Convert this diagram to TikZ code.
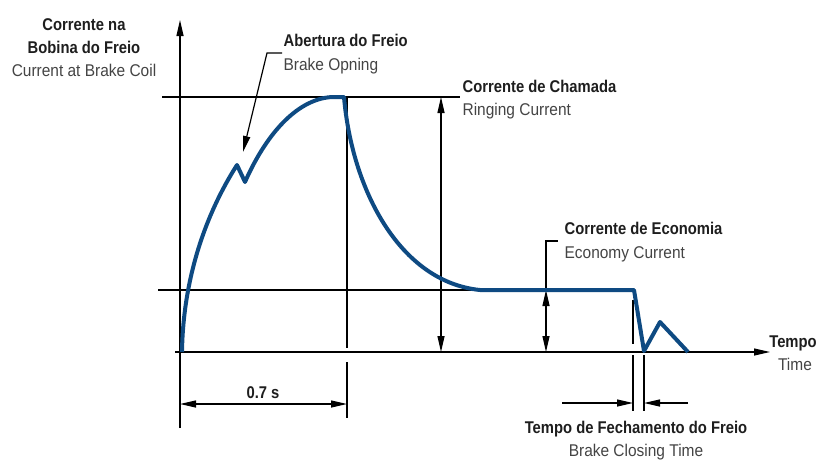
\documentclass[tikz,border=0pt]{standalone}
\usepackage{fontspec}
\setmainfont{Liberation Sans}[FakeStretch=0.91,BoldFeatures={FakeStretch=0.87}]
\usetikzlibrary{arrows.meta}
\definecolor{coilblue}{RGB}{14,74,130}
\definecolor{textgray}{RGB}{68,68,68}
\definecolor{textdark}{RGB}{30,30,30}

\begin{document}
\begin{tikzpicture}[x=1pt,y=-1pt,line width=1.2pt,>={Triangle[length=16pt,width=7pt]}]
    \tikzstyle{title}=[font=\fontsize{17}{23}\selectfont\bfseries,text=textdark,inner sep=0pt]
    \tikzstyle{subtitle}=[font=\fontsize{17}{23}\selectfont,text=textgray,inner sep=0pt]
    \tikzstyle{current}=[line width=4pt,draw=coilblue,line join=round]
    \useasboundingbox (0,0) rectangle (820,461);

    % labels
    \foreach \name/\anc/\x/\y/\txt in {coil-1/base/84/30/Corrente na, coil-2/base/84/53/Bobina do Freio,
            open/base west/283/46/Abertura do Freio, ringing/base west/462/92/Corrente de Chamada,
            economy/base west/564/234/Corrente de Economia, time/base/793/347/Tempo,
            closing/base/636/433/Tempo de Fechamento do Freio, delay/base/263/398/0.7 s}
        \node[title,anchor=\anc] (\name) at (\x,\y) {\txt};
    \foreach \name/\anc/\x/\y/\txt in {coil-en/base/84/76/Current at Brake Coil,
            open-en/base west/283/70/Brake Opning, ringing-en/base west/462/115/Ringing Current,
            economy-en/base west/564/258/Economy Current, time-en/base/795/370/Time,
            closing-en/base/636/456/Brake Closing Time}
        \node[subtitle,anchor=\anc] (\name) at (\x,\y) {\txt};

    % axes and guide lines
    \coordinate (y-top) at (180,20);   \coordinate (y-bottom) at (180,428);
    \coordinate (x-left) at (175,352); \coordinate (x-right) at (770,352);
    \coordinate (peak-l) at (162,97);  \coordinate (peak-r) at (460,97);
    \coordinate (eco-l) at (158,290);  \coordinate (eco-r) at (480,290);
    \coordinate (peak) at (347,97);    \coordinate (peak-foot) at (347,348);
    \coordinate (delay-top) at (347,362); \coordinate (delay-foot) at (347,418);
    \coordinate (delay-l) at (180,404);   \coordinate (delay-r) at (347,404);
    \coordinate (ring-top) at (441,97);   \coordinate (ring-foot) at (441,352);
    \coordinate (eco-top) at (546,290);   \coordinate (eco-foot) at (546,352);
    \coordinate (eco-lead) at (546,241);  \coordinate (eco-end) at (558,241);
    \coordinate (open-end) at (282,53);   \coordinate (open-knee) at (267,53);
    \coordinate (open-tip) at (243,152);

    \draw[->] (y-bottom) -- (y-top);
    \draw[->] (x-left) -- (x-right);
    \draw (peak-l) -- (peak-r);
    \draw (eco-l) -- (eco-r);
    \draw (peak) -- (peak-foot);
    \draw (delay-top) -- (delay-foot);
    \draw[<->] (delay-l) -- (delay-r);
    \draw[<->] (ring-top) -- (ring-foot);
    \draw[<->] (eco-top) -- (eco-foot);
    \draw (eco-top) -- (eco-lead) -- (eco-end);
    \draw[->] (open-end) -- (open-knee) -- (open-tip);

    % brake closing time
    \foreach \x/\from/\to in {633/300/344, 633/355/411, 644/355/411}
        \draw (\x,\from) -- (\x,\to);
    \coordinate (close-from) at (562,403); \coordinate (close-l) at (633,403);
    \coordinate (close-to) at (688,403);   \coordinate (close-r) at (644,403);
    \draw[->] (close-from) -- (close-l);
    \draw[->] (close-to) -- (close-r);

    % coil current
    \draw[current] (182,352) .. controls (183,280) and (205,215) .. (237,165) -- (245,182)
        .. controls (268,130) and (300,98) .. (333,97) -- (344,97)
        .. controls (352,190) and (400,282) .. (480,290) -- (634,290) -- (644,351)
        -- (660,322) -- (688,352);
\end{tikzpicture}
\end{document}
